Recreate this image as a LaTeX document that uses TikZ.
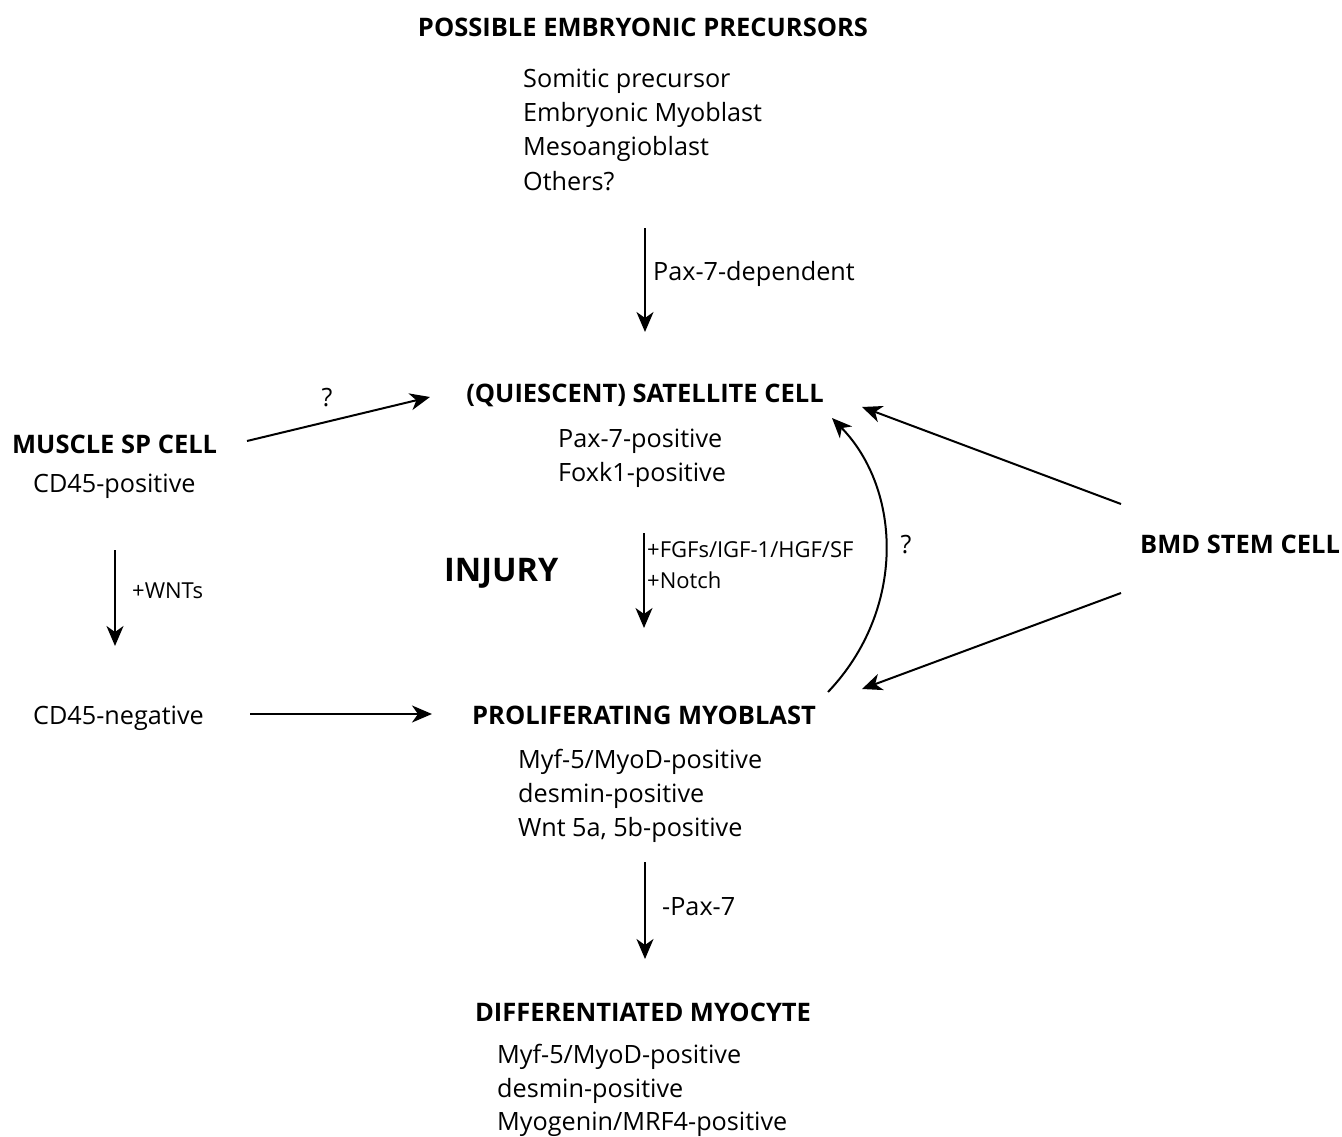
\documentclass[tikz,border=0pt]{standalone}
\usepackage{fontspec}
\setmainfont{Open Sans}
\usetikzlibrary{arrows.meta}
\begin{document}
\begin{tikzpicture}[x=1pt,y=-1pt,
 txt/.style={font=\fontsize{25.2}{30}\selectfont, inner sep=0pt, anchor=base west, yshift=-2pt},
 hd/.style={font=\bfseries\fontsize{25.5}{28}\selectfont, inner sep=0pt, anchor=base, yshift=-2pt},
 sm/.style={font=\fontsize{22}{26}\selectfont, inner sep=0pt, anchor=base west, yshift=-1pt},
 arr/.style={line width=2pt, -{Stealth[length=20pt,width=17pt,inset=6pt]}}]
\useasboundingbox[fill=white] (0,0) rectangle (1342,1137);

% embryonic precursors
\node[hd] (pep) at (643,35) {POSSIBLE EMBRYONIC PRECURSORS};
\node[txt] (p1) at (523,86) {Somitic precursor};
\node[txt] (p2) at (523,120) {Embryonic Myoblast};
\node[txt] (p3) at (523,154) {Mesoangioblast};
\node[txt] (p4) at (523,188) {Others?};
\node[txt] (lpax) at (653,278) {Pax-7-dependent};

% satellite cell
\node[hd] (sat) at (645,400) {(QUIESCENT) SATELLITE CELL};
\node[txt] (s1) at (558,445) {Pax-7-positive};
\node[txt] (s2) at (558,479) {Foxk1-positive};

% muscle SP cell
\node[hd, anchor=base west] (msp) at (12,451) {MUSCLE SP CELL};
\node[txt] (cdp) at (33,490) {CD45-positive};
\node[txt, anchor=base] (q1) at (327,404) {?};
\node[sm] (wnt) at (132,597) {+WNTs};
\node[txt] (cdn) at (33,722) {CD45-negative};

% injury
\node[font=\bfseries\fontsize{32.5}{36}\selectfont, inner sep=0pt, anchor=base west, yshift=-2pt] (inj) at (444,579) {INJURY};
\node[sm] (f1) at (647,556) {+FGFs/IGF-1/HGF/SF};
\node[sm] (f2) at (647,587) {+Notch};
\node[txt, anchor=base] (q2) at (906,551) {?};

% BMD
\node[hd, anchor=base west] (bmd) at (1140,551) {BMD STEM CELL};

% proliferating myoblast
\node[hd] (pro) at (644,722) {PROLIFERATING MYOBLAST};
\node[txt] (m1) at (518,766) {Myf-5/MyoD-positive};
\node[txt] (m2) at (518,800) {desmin-positive};
\node[txt] (m3) at (518,834) {Wnt 5a, 5b-positive};
\node[txt] (lp7) at (662,913) {-Pax-7};

% differentiated myocyte
\node[hd] (dif) at (643,1019) {DIFFERENTIATED MYOCYTE};
\node[txt] (d1) at (497,1061) {Myf-5/MyoD-positive};
\node[txt] (d2) at (497,1095) {desmin-positive};
\node[txt] (d3) at (497,1128) {Myogenin/MRF4-positive};

% connector end points
\coordinate (a1s) at (645,228); \coordinate (a1e) at (645,332);
\coordinate (qs) at (247,441);  \coordinate (qe) at (430,397);
\coordinate (ws) at (115,550);  \coordinate (we) at (115,646);
\coordinate (is) at (644,533);  \coordinate (ie) at (644,628);
\coordinate (b1s) at (1121,504); \coordinate (b1e) at (862,407);
\coordinate (b2s) at (1121,593); \coordinate (b2e) at (862,689);
\coordinate (cs) at (828,692);  \coordinate (ce) at (832,418);
\coordinate (ns) at (250,714);  \coordinate (ne) at (432,714);
\coordinate (ps) at (645,862);  \coordinate (pe) at (645,959);

\draw[arr] (a1s) -- (a1e);
\draw[arr] (qs) -- (qe);
\draw[arr] (ws) -- (we);
\draw[arr] (is) -- (ie);
\draw[arr] (b1s) -- (b1e);
\draw[arr] (b2s) -- (b2e);
\draw[arr] (cs) .. controls (906,610) and (902,490) .. (ce);
\draw[arr] (ns) -- (ne);
\draw[arr] (ps) -- (pe);
\end{tikzpicture}
\end{document}
